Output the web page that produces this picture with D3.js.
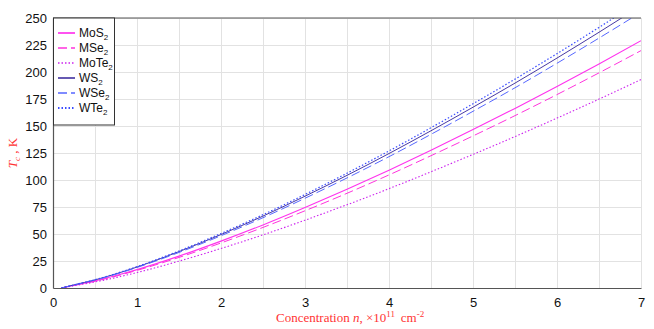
<!DOCTYPE html>
<html><head><meta charset="utf-8">
<script src="https://cdn.jsdelivr.net/npm/d3@7"></script>
<style>
html,body{margin:0;padding:0;background:#fff;}
svg{display:block;}
</style></head>
<body>
<svg id="chart" width="654" height="329"></svg>
<script>
const nValues = [0.1, 0.25, 0.5, 0.75, 1, 1.5, 2, 2.5, 3, 3.5, 4, 4.5, 5, 5.5, 6, 6.5, 7];
const MoS2  = [0, 2.5, 6.6, 11.5, 17.0, 29.5, 43.4, 58.4, 74.5, 91.4, 109.1, 127.6, 146.7, 166.3, 186.6, 207.5, 229.0];
const MSe2  = [0, 2.4, 6.3, 11.0, 16.3, 28.3, 41.7, 56.1, 71.5, 87.7, 104.7, 122.5, 140.8, 159.6, 179.1, 199.2, 219.8];
const MoTe2 = [0, 2.1, 5.6, 9.7, 14.3, 24.9, 36.6, 49.2, 62.8, 77.1, 92.0, 107.6, 123.7, 140.2, 157.3, 174.9, 193.0];
const WS2   = [0, 2.9, 7.5, 13.1, 19.4, 33.7, 49.5, 66.6, 85.0, 104.3, 124.5, 145.6, 167.4, 189.7, 212.9, 236.8, 261.3];
const WSe2  = [0, 2.8, 7.4, 12.8, 19.0, 32.9, 48.4, 65.1, 83.1, 101.9, 121.6, 142.3, 163.6, 185.4, 208.1, 231.4, 255.3];
const WTe2  = [0, 2.9, 7.7, 13.4, 19.8, 34.3, 50.5, 67.9, 86.6, 106.3, 126.9, 148.4, 170.6, 193.4, 217.0, 241.3, 266.3];
const xTicks = [0,1,2,3,4,5,6,7];
const yTicks = [0,25,50,75,100,125,150,175,200,225,250];

const series = [
  {label:["MoS","2"], values:MoS2,  color:"#ff33ee", dash:null,  w:1.1},
  {label:["MSe","2"], values:MSe2,  color:"#ff33dd", dash:"9,4", w:1.0},
  {label:["MoTe","2"],values:MoTe2, color:"#cc22ee", dash:"1.5,2", w:1.1},
  {label:["WS","2"],  values:WS2,   color:"#332299", dash:null,  w:0.9},
  {label:["WSe","2"], values:WSe2,  color:"#5566ff", dash:"9,4", w:1.0},
  {label:["WTe","2"], values:WTe2,  color:"#3a4cff", dash:"1.5,2", w:1.2}
];

const svg = d3.select("#chart");
const L=53, R=641, T=18, B=288;
const x = d3.scaleLinear().domain([0,7]).range([L,R]);
const y = d3.scaleLinear().domain([0,250]).range([B,T]);

// grid
const g = svg.append("g");
g.selectAll("line.vg").data(d3.range(0.5,7.01,0.5)).join("line")
  .attr("x1",d=>x(d)).attr("x2",d=>x(d)).attr("y1",T).attr("y2",B)
  .attr("stroke","#e2e2e2").attr("stroke-width",1).attr("shape-rendering","crispEdges");
g.selectAll("line.hg").data(yTicks.slice(1)).join("line")
  .attr("x1",L).attr("x2",R).attr("y1",d=>y(d)).attr("y2",d=>y(d))
  .attr("stroke","#e2e2e2").attr("stroke-width",1).attr("shape-rendering","crispEdges");

svg.append("clipPath").attr("id","clip").append("rect")
  .attr("x",L).attr("y",T).attr("width",R-L).attr("height",B-T);

const line = d3.line().x((d,i)=>x(nValues[i])).y(d=>y(d)).curve(d3.curveMonotoneX);
svg.append("g").attr("clip-path","url(#clip)")
  .selectAll("path").data(series).join("path")
  .attr("d",d=>line(d.values))
  .attr("fill","none").attr("stroke",d=>d.color)
  .attr("stroke-width",d=>d.w)
  .attr("stroke-dasharray",d=>d.dash);

// axes
const xAxis = d3.axisBottom(x).tickValues(xTicks).tickSize(0).tickPadding(10).tickFormat(d3.format("d"));
const yAxis = d3.axisLeft(y).tickValues(yTicks).tickSize(0).tickPadding(6).tickFormat(d3.format("d"));
const gx = svg.append("g").attr("transform",`translate(0,${B})`).call(xAxis);
const gy = svg.append("g").attr("transform",`translate(${L},0)`).call(yAxis);
[gx,gy].forEach(a=>{
  a.select(".domain").attr("stroke","#555").attr("stroke-width",1.2);
  a.selectAll("text").attr("font-family","Liberation Sans, Arial, sans-serif").attr("font-size",13).attr("fill","#111");
});
// top border
svg.append("line").attr("x1",L).attr("x2",R).attr("y1",T).attr("y2",T)
  .attr("stroke","#555").attr("stroke-width",1.2);

// axis titles
const yl = svg.append("text").attr("transform",`translate(17,153) rotate(-90)`)
  .attr("text-anchor","middle").attr("font-family","Liberation Serif, Times New Roman, serif")
  .attr("font-size",13).attr("fill","#ff3333");
yl.append("tspan").attr("font-style","italic").text("T");
yl.append("tspan").attr("font-style","italic").attr("font-size",9).attr("dy",3).text("c");
yl.append("tspan").attr("dy",-3).text(" , K");

const xl = svg.append("text").attr("x",276).attr("y",322)
  .attr("font-family","Liberation Serif, Times New Roman, serif")
  .attr("font-size",13).attr("fill","#ff3333");
xl.append("tspan").text("Concentration ");
xl.append("tspan").attr("font-style","italic").text("n");
xl.append("tspan").text(", \u00d710");
xl.append("tspan").attr("font-size",9).attr("dy",-5).text("11");
xl.append("tspan").attr("dy",5).text("\u2009 cm");
xl.append("tspan").attr("font-size",9).attr("dy",-5).text("-2");

// legend
const lg = svg.append("g");
lg.append("rect").attr("x",L+0.5).attr("y",T).attr("width",61).attr("height",107)
  .attr("fill","#fff").attr("stroke","#333").attr("stroke-width",1);
series.forEach((s,i)=>{
  const cy = 33 + i*15;
  lg.append("line").attr("x1",58).attr("x2",75).attr("y1",cy).attr("y2",cy)
    .attr("stroke",s.color).attr("stroke-width",s.w+0.6).attr("stroke-dasharray",s.dash);
  const t = lg.append("text").attr("x",79).attr("y",cy+4)
    .attr("font-family","Liberation Sans, Arial, sans-serif").attr("font-size",12).attr("fill","#111");
  t.append("tspan").text(s.label[0]);
  t.append("tspan").attr("font-size",8).attr("dy",3).text(s.label[1]);
});
</script>
</body></html>
